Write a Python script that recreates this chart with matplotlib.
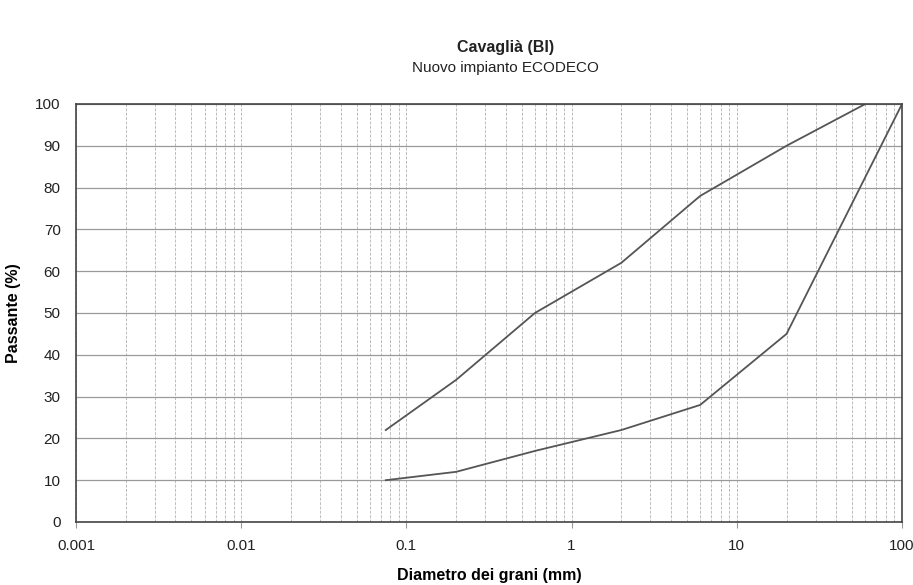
import matplotlib
matplotlib.use("Agg")
import matplotlib.pyplot as plt
from matplotlib.ticker import FixedLocator, FixedFormatter, LogLocator, NullFormatter

plt.rcParams["font.family"] = ["Liberation Sans", "DejaVu Sans"]

# curve granulometriche (diametro in mm, passante in %)
diam_sup = [0.075, 0.2, 0.6, 2, 6, 20, 60]
pass_sup = [22, 34, 50, 62, 78, 90, 100]
diam_inf = [0.075, 0.2, 0.6, 2, 6, 20, 100]
pass_inf = [10, 12, 17, 22, 28, 45, 100]

x_ticks = [0.001, 0.01, 0.1, 1, 10, 100]
x_labels = ["0.001", "0.01", "0.1", "1", "10", "100"]
y_ticks = list(range(0, 101, 10))

fig = plt.figure(figsize=(9.13, 5.85), dpi=100)
ax = fig.add_axes([0.0832, 0.1077, 0.9048, 0.7146])

ax.set_xscale("log")
ax.set_xlim(0.001, 100)
ax.set_ylim(0, 100)

ax.xaxis.set_major_locator(FixedLocator(x_ticks))
ax.xaxis.set_major_formatter(FixedFormatter(x_labels))
ax.xaxis.set_minor_locator(LogLocator(base=10, subs=range(2, 10), numticks=20))
ax.xaxis.set_minor_formatter(NullFormatter())
ax.set_yticks(y_ticks)

ax.grid(True, which="major", axis="y", color="#9a9a9a", lw=0.9)
ax.grid(True, which="both", axis="x", color="#bcbcbc", lw=0.7, ls=(0, (3, 1.5)))
ax.set_axisbelow(True)

ax.plot(diam_sup, pass_sup, color="#555555", lw=1.3)
ax.plot(diam_inf, pass_inf, color="#555555", lw=1.3)

for s in ax.spines.values():
    s.set_color("#444444")
    s.set_linewidth(1.2)

ax.tick_params(axis="x", which="major", direction="out", length=4, width=0.8,
               color="#999999", labelsize=11, pad=8, labelcolor="#222222")
ax.tick_params(axis="x", which="minor", length=0)
ax.tick_params(axis="y", which="major", direction="out", length=0,
               labelsize=11, pad=11, labelcolor="#222222")

ax.set_xlabel("Diametro dei grani (mm)", fontsize=11.5, fontweight="bold", labelpad=11)
ax.set_ylabel("Passante (%)", fontsize=11.5, fontweight="bold", labelpad=10)

fig.text(0.554, 0.918, "Cavaglià (BI)", ha="center", va="center",
         fontsize=11.5, fontweight="bold", color="#222222")
fig.text(0.554, 0.883, "Nuovo impianto ECODECO", ha="center", va="center",
         fontsize=11, color="#222222")

fig.savefig("out.png", dpi=100)
